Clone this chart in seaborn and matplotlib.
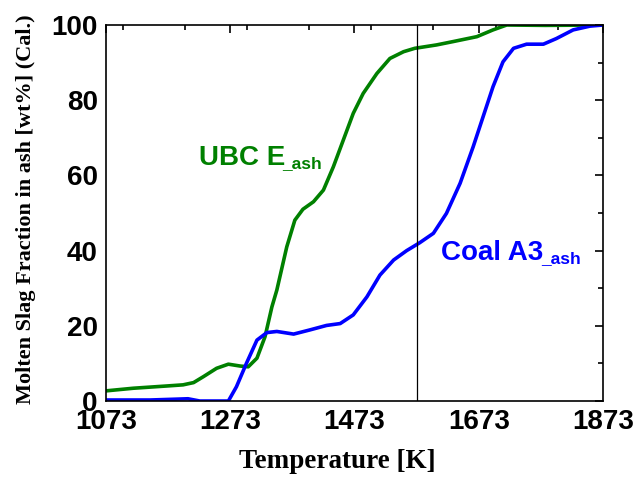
import numpy as np
import pandas as pd
import matplotlib
matplotlib.use("Agg")
import matplotlib.pyplot as plt
import seaborn as sns
from matplotlib.ticker import MultipleLocator

# données
temp_ubc = [1073, 1117, 1171, 1197, 1214, 1230, 1251, 1270, 1289, 1302, 1316, 1329,
            1340, 1348, 1364, 1377, 1390, 1407, 1423, 1439, 1455, 1471, 1487, 1509,
            1530, 1552, 1570, 1605, 1632, 1670, 1696, 1718, 1780, 1873]
frac_ubc = [2.7, 3.4, 4.0, 4.3, 4.9, 6.5, 8.7, 9.8, 9.3, 9.1, 11.4, 17.1,
            25.0, 29.5, 41.0, 48.1, 51.0, 53.0, 56.1, 62.3, 69.4, 76.5, 81.8, 87.1,
            91.1, 92.9, 93.8, 94.7, 95.6, 96.9, 98.7, 100.0, 99.9, 100.0]

temp_a3 = [1073, 1144, 1187, 1205, 1224, 1270, 1283, 1299, 1316, 1332, 1348, 1375,
           1401, 1428, 1450, 1471, 1493, 1514, 1536, 1557, 1578, 1600, 1621, 1643,
           1664, 1680, 1696, 1712, 1729, 1750, 1777, 1798, 1825, 1852, 1873]
frac_a3 = [0.27, 0.27, 0.5, 0.6, 0.0, 0.0, 3.8, 10.0, 16.2, 18.2, 18.5, 17.8,
           18.9, 20.1, 20.6, 22.9, 27.7, 33.5, 37.5, 40.0, 42.1, 44.6, 49.9, 57.9,
           67.6, 75.6, 83.6, 90.2, 93.8, 94.9, 94.9, 96.4, 98.7, 99.7, 100.0]

t_ref = 1573

sns.set_theme(style="white")
plt.rcParams['font.family'] = ['Liberation Sans', 'DejaVu Sans']

fig = plt.figure(figsize=(6.35, 4.79), dpi=100)
ax = fig.add_axes([0.1669, 0.1628, 0.7827, 0.785])

sns.lineplot(x=temp_ubc, y=frac_ubc, color="#008000", linewidth=2.6, ax=ax)
sns.lineplot(x=temp_a3, y=frac_a3, color="#0000ff", linewidth=2.6, ax=ax)
ax.axvline(t_ref, color="black", linewidth=0.9)

ax.set_xlim(1073, 1873)
ax.set_ylim(0, 100)
ax.set_xticks([1073, 1273, 1473, 1673, 1873])
ax.xaxis.set_minor_locator(MultipleLocator(100))
ax.yaxis.set_major_locator(MultipleLocator(20))
ax.yaxis.set_minor_locator(MultipleLocator(10))
ax.tick_params(which="both", direction="in", top=True, right=True, color="black", width=1.2)
ax.tick_params(which="major", length=6, labelsize=20, pad=6, labelcolor="black")
ax.tick_params(which="minor", length=3.5)
for lab in ax.get_xticklabels() + ax.get_yticklabels():
    lab.set_fontweight("bold")
for sp in ax.spines.values():
    sp.set_color("black")
    sp.set_linewidth(1.2)

ax.set_xlabel("Temperature [K]", fontsize=19.5, fontweight="bold", family="Liberation Serif",
              color="black", va="center")
ax.xaxis.set_label_coords(0.465, -0.162)
ax.set_ylabel("Molten Slag Fraction in ash [wt%] (Cal.)", fontsize=16, fontweight="bold",
              family="Liberation Serif", color="black")
ax.yaxis.set_label_coords(-0.140, 0.51)

# étiquettes des courbes
t1 = ax.text(1223, 62.8, "UBC E", color="#008000", fontsize=20, fontweight="bold")
ax.annotate("_ash", xy=(1, 0), xycoords=t1, xytext=(-2, 0), textcoords="offset points",
            color="#008000", fontsize=12.5, fontweight="bold", va="bottom", ha="left")
t2 = ax.text(1613, 37.5, "Coal A3", color="#0000ff", fontsize=20, fontweight="bold")
ax.annotate("_ash", xy=(1, 0), xycoords=t2, xytext=(-2, 0), textcoords="offset points",
            color="#0000ff", fontsize=12.5, fontweight="bold", va="bottom", ha="left")

fig.savefig("out.png", dpi=100, facecolor="white")
